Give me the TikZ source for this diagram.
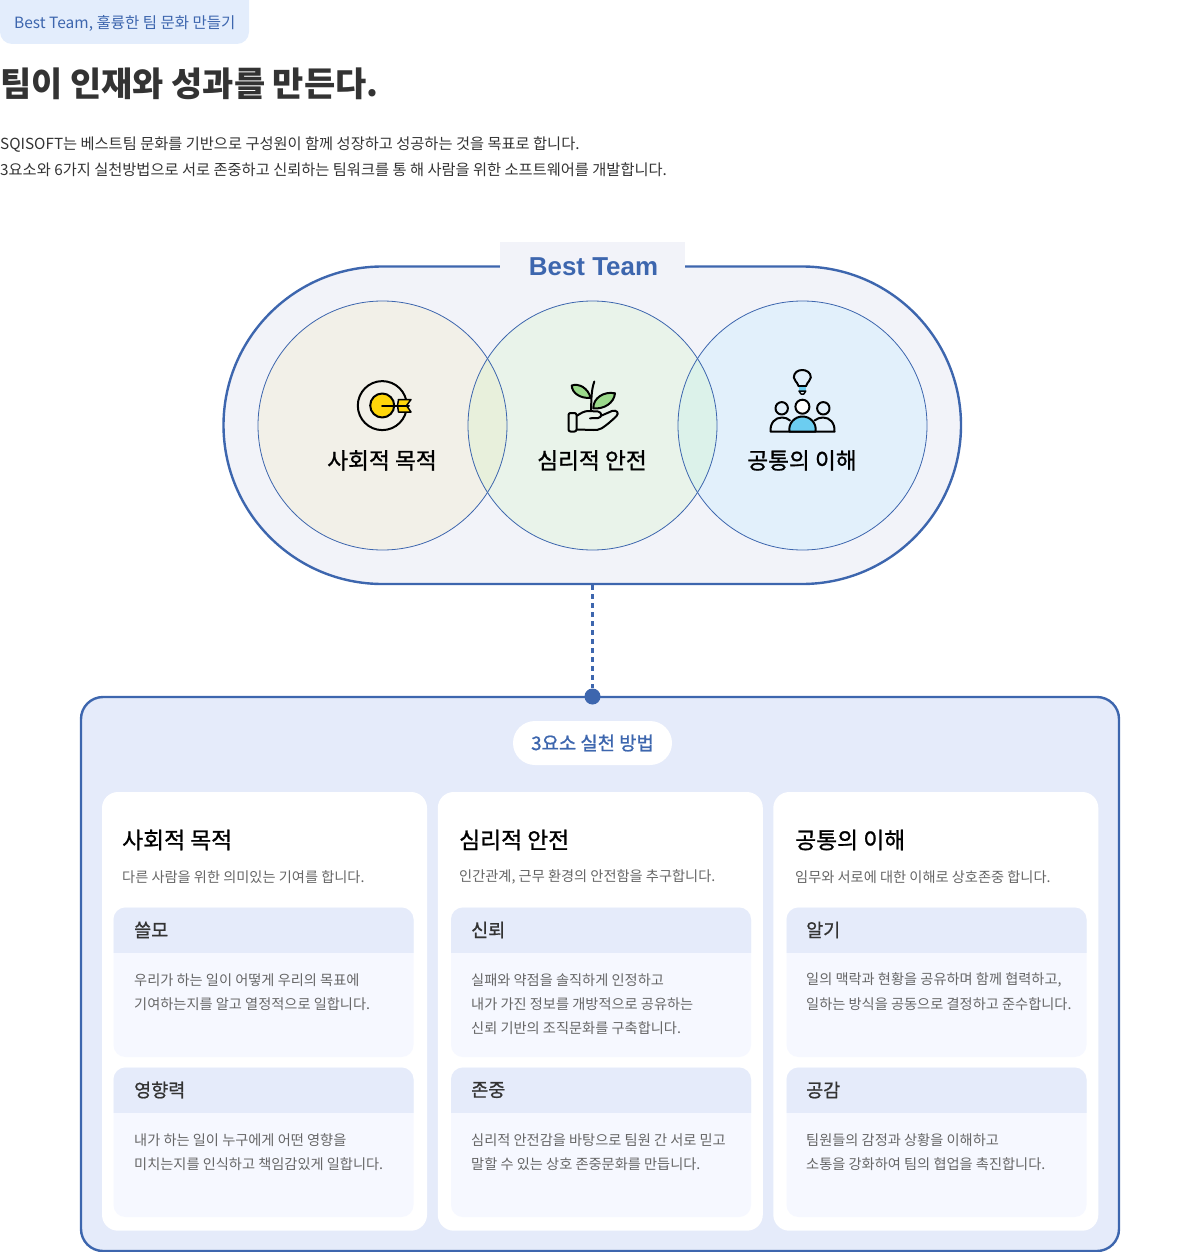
\documentclass[tikz,border=0pt]{standalone}
\usepackage{fontspec}
\setmainfont{Noto Sans CJK KR}
\newfontfamily\medfont[FakeBold=1]{Noto Sans CJK KR}
\newfontfamily\latinfont{Liberation Sans}
\usepackage{xcolor}
\usetikzlibrary{positioning}
\definecolor{bestblue}{HTML}{3D66AE}
\definecolor{tagfill}{HTML}{E3EDFC}
\definecolor{pillfill}{HTML}{F2F3F9}
\definecolor{boxfill}{HTML}{E5EBFA}
\definecolor{bodyfill}{HTML}{F6F8FF}
\definecolor{darktext}{HTML}{333333}
\definecolor{greytext}{HTML}{666666}
\definecolor{goalfill}{HTML}{F2F0E8}
\definecolor{safefill}{HTML}{E9F3EA}
\definecolor{mindfill}{HTML}{E2F0FB}
\definecolor{lensa}{HTML}{E8F0DC}
\definecolor{lensb}{HTML}{DCF2EA}
\definecolor{dartyellow}{HTML}{FFD60A}
\definecolor{leafgreen}{HTML}{9AD98A}
\definecolor{skyblue}{HTML}{6CCDF0}
\tikzset{
  txt/.style={anchor=west,inner sep=0pt,yshift=-1.2pt,font=\fontsize{14.22}{15}\selectfont,text=greytext},
  introtxt/.style={anchor=west,inner sep=0pt,yshift=-1.5pt,font=\fontsize{15.28}{16}\selectfont,text=darktext},
  headtxt/.style={anchor=west,inner sep=0pt,font=\fontsize{18.5}{20}\medfont,text=darktext},
  cardtitle/.style={anchor=west,inner sep=0pt,font=\fontsize{22.8}{24}\medfont,text=black},
  venntitle/.style={inner sep=0pt,yshift=-.4pt,font=\fontsize{22.7}{24}\medfont,text=black},
  icon/.style={line width=2pt,line cap=round,line join=round},
  venn/.style={draw=bestblue,line width=.8pt},
}
\begin{document}
\begin{tikzpicture}[x=1pt,y=-1pt]
\useasboundingbox (0,0) rectangle (1200,1252);
% heading
\begin{scope}
\clip (0,0) rectangle (1200,1252);
\fill[tagfill,rounded corners=12pt] (0,-14) rectangle (249,44);
\end{scope}
\node[introtxt,font=\fontsize{15.5}{16}\selectfont,text=bestblue] (tag) at (14,22) {Best Team, 훌륭한 팀 문화 만들기};
\node[anchor=west,inner sep=0pt,yshift=-.8pt,font=\fontsize{33.9}{34}\selectfont\bfseries,text=darktext] (headline) at (0,83) {팀이 인재와 성과를 만든다.};
\node[introtxt] (introa) at (0,143) {SQISOFT는 베스트팀 문화를 기반으로 구성원이 함께 성장하고 성공하는 것을 목표로 합니다.};
\node[introtxt] (introb) at (0,168.3) {3요소와 6가지 실천방법으로 서로 존중하고 신뢰하는 팀워크를 통 해 사람을 위한 소프트웨어를 개발합니다.};
% best team pill
\draw[fill=pillfill,draw=bestblue,line width=2.4pt,rounded corners=159pt] (223.5,266.5) rectangle (961,584);
\fill[pillfill] (500,242) rectangle (685,290);
\node[inner sep=0pt,font=\fontsize{25.9}{28}\latinfont\bfseries,text=bestblue] (best) at (593.5,266.5) {Best Team};
% circles
\fill[goalfill] (382.5,425.5) circle(124.5);
\fill[safefill] (592.5,425.5) circle(124.5);
\fill[mindfill] (802.5,425.5) circle(124.5);
\begin{scope}
\clip (382.5,425.5) circle(124.5);
\fill[lensa] (592.5,425.5) circle(124.5);
\end{scope}
\begin{scope}
\clip (592.5,425.5) circle(124.5);
\fill[lensb] (802.5,425.5) circle(124.5);
\end{scope}
\draw[venn] (382.5,425.5) circle(124.5);
\draw[venn] (592.5,425.5) circle(124.5);
\draw[venn] (802.5,425.5) circle(124.5);
\node[venntitle] (goal) at (382,460) {사회적 목적};
\node[venntitle] (safe) at (592,460) {심리적 안전};
\node[venntitle] (mind) at (802,460) {공통의 이해};
% target icon
\draw[icon] (382.3,405.6) circle(24.5);
\draw[icon,fill=dartyellow] (382.2,405.5) circle(12);
\draw[icon,fill=dartyellow,line width=1.5pt] (397.5,405.6)--(398.5,399.5)--(411,399.5)--(406.5,405.6)--(411,412)--(398.5,412)--cycle;
\draw[icon] (382,405.6)--(409,405.6);
% plant icon
\draw[icon] (594.3,381.5) .. controls (591,391) and (591.5,400) .. (591,410);
\draw[icon,fill=leafgreen] (590.7,398) .. controls (588,388) and (579,383) .. (571.7,385.5) .. controls (572,393) and (580,398.5) .. (590.7,398) -- cycle;
\draw[icon,fill=leafgreen] (593.3,408.3) .. controls (593,398) and (604,391) .. (615,393.3) .. controls (614,403) and (604,409.5) .. (593.3,408.3) -- cycle;
\draw[icon,rounded corners=2pt] (568.5,413) rectangle (576.5,431.5);
\draw[icon] (577,415.7) .. controls (581,413) and (584.5,411) .. (588.3,411) -- (598,411.5) .. controls (602,412) and (602.5,417.5) .. (598,418) -- (590,418.3) (600.5,416) -- (612,411) .. controls (616.5,409.5) and (619.5,413) .. (616.5,416) .. controls (611,421.5) and (606,425.5) .. (601.7,428.3) .. controls (599,430) and (596,430) .. (593.3,430) -- (577,429.5);
% people icon
\draw[icon] (798.5,386) .. controls (797,381) and (793.8,381) .. (793.8,377.5) .. controls (793.8,367.5) and (810.8,367.5) .. (810.8,377.5) .. controls (810.8,381) and (807.6,381) .. (806.1,386) -- cycle;
\fill[skyblue] (798.8,386) rectangle (805.8,391);
\draw[icon,line width=1.5pt] (798.5,386)--(806.1,386) (799,391)--(801,394)--(803.8,394)--(805.8,391)--cycle;
\draw[icon] (781.7,408.3) circle(6.2);
\draw[icon] (823.3,408.3) circle(6.2);
\draw[icon] (770.5,431.7) .. controls (770,423) and (775,417.5) .. (782,417.5) .. controls (785,417.5) and (788,418.5) .. (790,420.5) (814.5,420.5) .. controls (817,418.5) and (820,417.5) .. (823,417.5) .. controls (830,417.5) and (835,423) .. (834.5,431.7) -- (770.5,431.7);
\draw[icon,fill=white] (802.4,406.7) circle(7);
\draw[icon,fill=skyblue] (789.5,431.7) .. controls (788,423) and (795,416.5) .. (802.5,416.5) .. controls (810,416.5) and (817,423) .. (815.5,431.7) -- cycle;
% practice box
\draw[fill=boxfill,draw=bestblue,line width=2.4pt,rounded corners=22pt] (81,697) rectangle (1119,1251);
\coordinate (pillbottom) at (592.5,585.2);
\node[circle,fill=bestblue,inner sep=0pt,minimum size=16pt] (dot) at (592.5,696.5) {};
\draw[bestblue,line width=2.4pt,dash pattern=on 5pt off 4pt] (pillbottom)--(dot);
\fill[white,rounded corners=22pt] (513,721) rectangle (672,765);
\node[inner sep=0pt,font=\fontsize{18.8}{20}\medfont,text=bestblue] (practice) at (592.5,743) {3요소 실천 방법};
% cards
\foreach \cx/\sx in {102/113.5,437.8/451,773.3/786.5}{
  \fill[white,rounded corners=16pt] (\cx,792) rectangle (\cx+325,1230.7);
  \foreach \sy in {907.5,1067.5}{
    \fill[bodyfill,rounded corners=12pt] (\sx,\sy) rectangle (\sx+300,\sy+149.5);
    \begin{scope}
    \clip (\sx,\sy) rectangle (\sx+300,\sy+45);
    \fill[boxfill,rounded corners=12pt] (\sx,\sy) rectangle (\sx+300,\sy+80);
    \end{scope}
  }
}
% card 1
\node[cardtitle] (goalcard) at (122,840) {사회적 목적};
\node[txt] (goalsub) at (122,876) {다른 사람을 위한 의미있는 기여를 합니다.};
\node[headtxt] (ssum) at (134,930) {쓸모};
\node[txt] (ssuma) at (134,979) {우리가 하는 일이 어떻게 우리의 목표에};
\node[txt] (ssumb) at (134,1003) {기여하는지를 알고 열정적으로 일합니다.};
\node[headtxt] (infl) at (134,1090) {영향력};
\node[txt] (infla) at (134,1139) {내가 하는 일이 누구에게 어떤 영향을};
\node[txt] (inflb) at (134,1163) {미치는지를 인식하고 책임감있게 일합니다.};
% card 2
\node[cardtitle] (safecard) at (459,840) {심리적 안전};
\node[txt] (safesub) at (459,876) {인간관계, 근무 환경의 안전함을 추구합니다.};
\node[headtxt] (trust) at (471,930) {신뢰};
\node[txt] (trusta) at (471,979) {실패와 약점을 솔직하게 인정하고};
\node[txt] (trustb) at (471,1003) {내가 가진 정보를 개방적으로 공유하는};
\node[txt] (trustc) at (471,1027) {신뢰 기반의 조직문화를 구축합니다.};
\node[headtxt] (respect) at (471,1090) {존중};
\node[txt] (respecta) at (471,1139) {심리적 안전감을 바탕으로 팀원 간 서로 믿고};
\node[txt] (respectb) at (471,1163) {말할 수 있는 상호 존중문화를 만듭니다.};
% card 3
\node[cardtitle] (mindcard) at (795,840) {공통의 이해};
\node[txt] (mindsub) at (795,876) {임무와 서로에 대한 이해로 상호존중 합니다.};
\node[headtxt] (know) at (806,930) {알기};
\node[txt] (knowa) at (806,979) {일의 맥락과 현황을 공유하며 함께 협력하고,};
\node[txt] (knowb) at (806,1003) {일하는 방식을 공동으로 결정하고 준수합니다.};
\node[headtxt] (empathy) at (806,1090) {공감};
\node[txt] (empathya) at (806,1139) {팀원들의 감정과 상황을 이해하고};
\node[txt] (empathyb) at (806,1163) {소통을 강화하여 팀의 협업을 촉진합니다.};
\end{tikzpicture}
\end{document}
